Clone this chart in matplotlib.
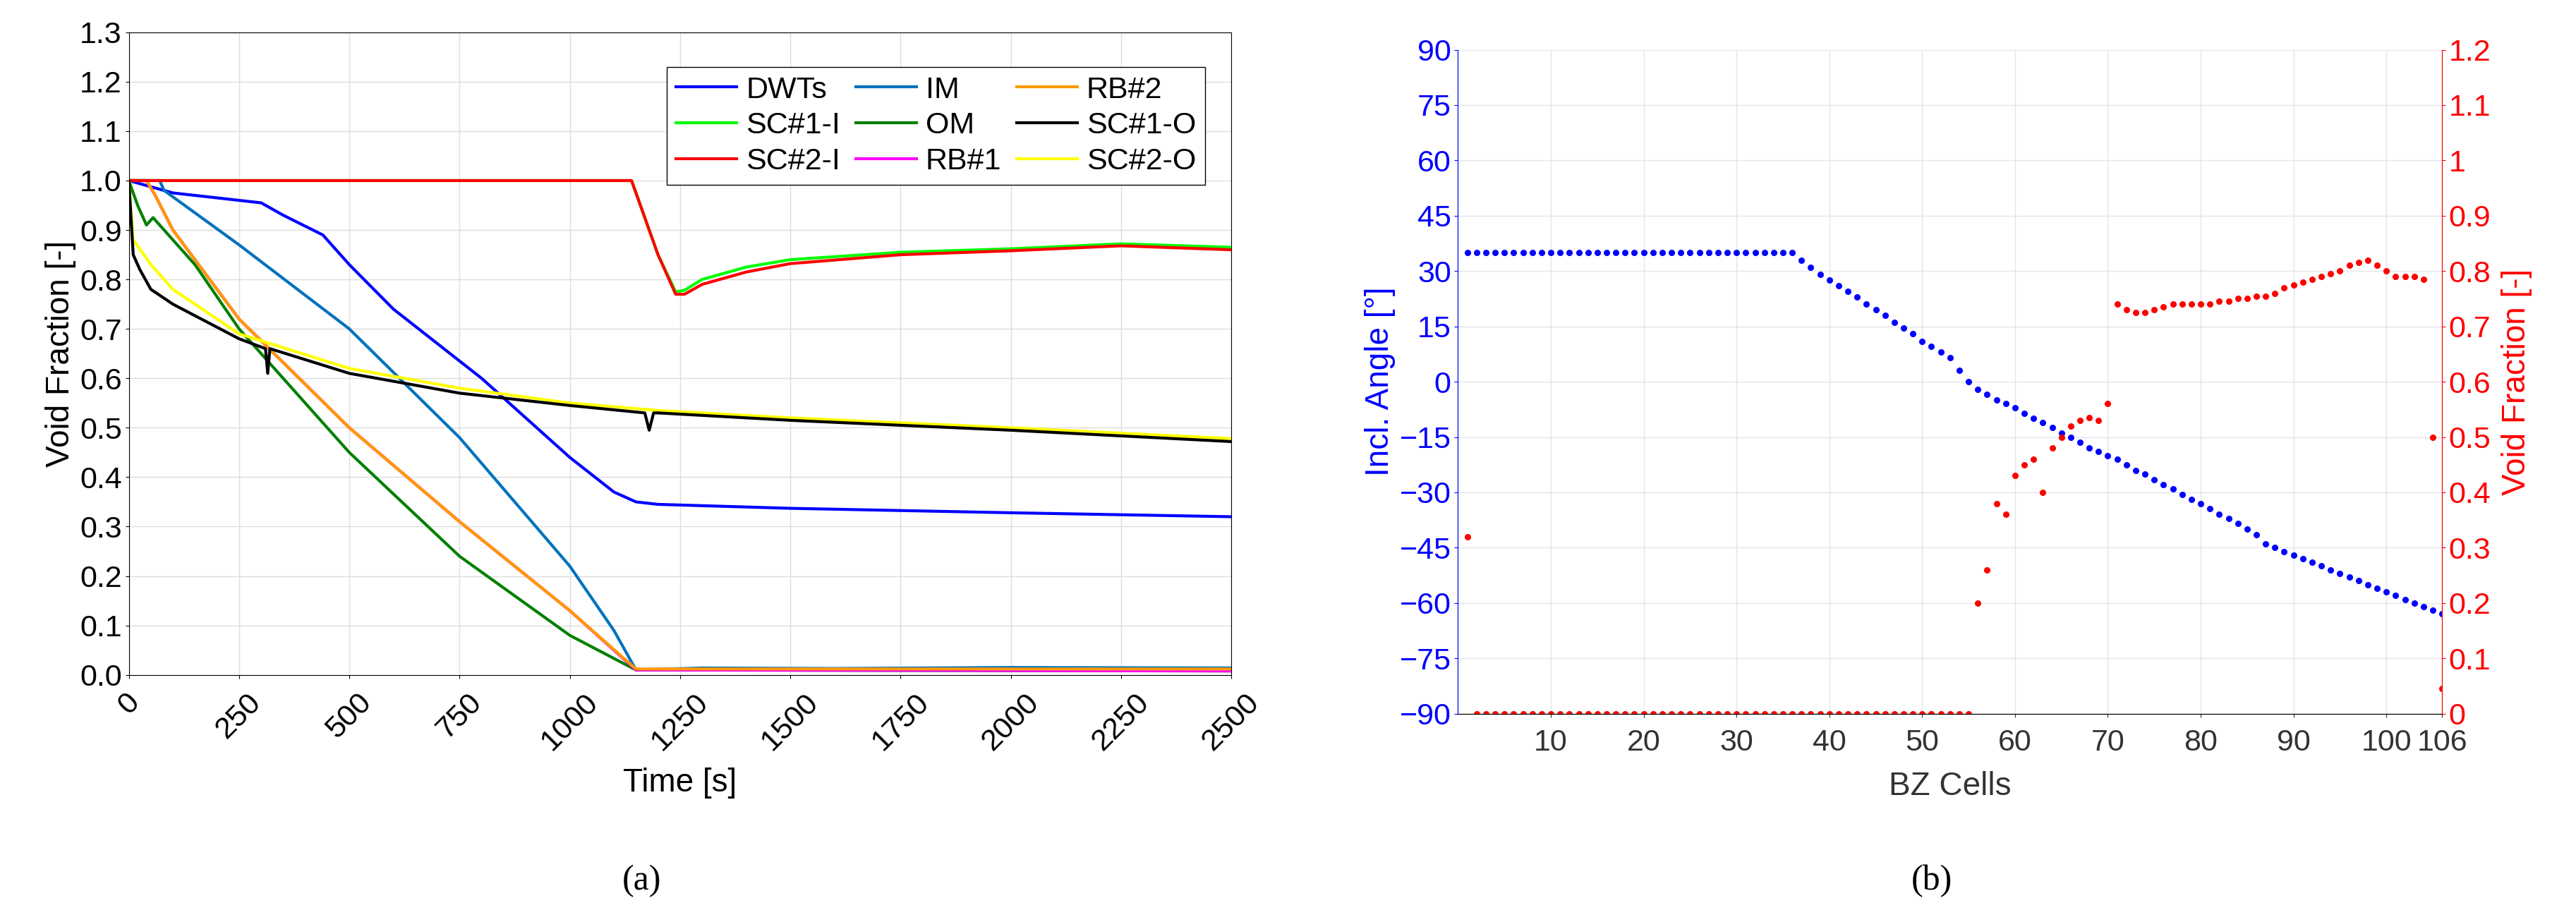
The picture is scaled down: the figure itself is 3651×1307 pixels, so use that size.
import matplotlib
matplotlib.use("Agg")
import matplotlib.pyplot as plt

plt.rcParams["font.family"] = ["Liberation Sans Narrow", "Liberation Sans", "DejaVu Sans"]

# ---- (a) void fraction vs time: series as (time, value) read-off points
DWT_T = [0, 100, 300, 350, 440, 500, 600, 800, 900, 1000, 1100, 1150, 1200, 1500, 2000, 2500]
DWT_V = [1.0, 0.975, 0.955, 0.93, 0.89, 0.83, 0.74, 0.60, 0.52, 0.44, 0.37, 0.35, 0.345, 0.337, 0.328, 0.32]
IM_T = [0, 70, 80, 250, 500, 750, 1000, 1100, 1150, 1300, 1600, 2000, 2500]
IM_V = [1.0, 1.0, 0.98, 0.87, 0.70, 0.48, 0.22, 0.09, 0.01, 0.014, 0.013, 0.015, 0.014]
OM_T = [0, 20, 40, 55, 70, 150, 250, 500, 750, 1000, 1150, 2500]
OM_V = [1.0, 0.95, 0.91, 0.925, 0.91, 0.83, 0.70, 0.45, 0.24, 0.08, 0.01, 0.008]
RB2_T = [0, 40, 60, 100, 250, 500, 750, 1000, 1150, 2500]
RB2_V = [1.0, 1.0, 0.97, 0.90, 0.72, 0.50, 0.31, 0.13, 0.012, 0.012]
RB1_T = [0, 40, 60, 100, 250, 500, 750, 1000, 1150, 2500]
RB1_V = [1.0, 1.0, 0.97, 0.90, 0.72, 0.50, 0.31, 0.13, 0.01, 0.008]
SC1O_T = [0, 10, 25, 50, 100, 250, 310, 315, 320, 500, 750, 1000, 1170, 1180, 1190, 1200, 1500, 2000, 2500]
SC1O_V = [1.0, 0.85, 0.82, 0.78, 0.75, 0.68, 0.66, 0.61, 0.66, 0.61, 0.57, 0.545, 0.53, 0.495, 0.53, 0.53, 0.515, 0.495, 0.472]
SC2O_T = [0, 10, 50, 100, 250, 500, 750, 1000, 1200, 1500, 2000, 2500]
SC2O_V = [1.0, 0.88, 0.83, 0.78, 0.69, 0.62, 0.58, 0.55, 0.535, 0.52, 0.50, 0.478]
SC1I_T = [0, 1140, 1160, 1200, 1240, 1260, 1300, 1400, 1500, 1750, 2000, 2250, 2500]
SC1I_V = [1.0, 1.0, 0.95, 0.85, 0.775, 0.778, 0.80, 0.825, 0.84, 0.855, 0.862, 0.872, 0.865]
SC2I_T = [0, 1140, 1160, 1200, 1240, 1260, 1300, 1400, 1500, 1750, 2000, 2250, 2500]
SC2I_V = [1.0, 1.0, 0.95, 0.85, 0.77, 0.77, 0.79, 0.815, 0.832, 0.85, 0.858, 0.868, 0.86]

# ---- (b) BZ cells: inclination angle and void fraction
CELLS = list(range(1, 107))
ANGLE = [35] * 36 + [
    33, 31, 29, 27.5, 26, 24.5, 23, 21, 19.5, 18, 16, 14.5, 13, 11, 9.5, 8, 6.5, 3,
    0, -2, -3.5, -5, -6, -7, -8.5, -10, -11, -12.5, -14, -15, -16.5, -18, -19, -20,
    -21, -22.5, -24, -25, -26.5, -28, -29, -30.5, -32, -33, -34.5, -36, -37, -38.5,
    -40, -41.5, -44, -45, -46, -47, -48, -49, -50, -51, -52, -53, -54, -55, -56,
    -57, -58, -59, -60, -61, -62, -63,
]
VOID = [0.32] + [0.0] * 54 + [
    0.2, 0.26, 0.38, 0.36, 0.43, 0.45, 0.46, 0.40, 0.48, 0.50, 0.52, 0.53, 0.535,
    0.53, 0.56, 0.74, 0.73, 0.725, 0.725, 0.73, 0.735, 0.74, 0.74, 0.74, 0.74, 0.74,
    0.745, 0.745, 0.75, 0.75, 0.755, 0.755, 0.76, 0.77, 0.775, 0.78, 0.785, 0.79,
    0.795, 0.80, 0.81, 0.815, 0.82, 0.81, 0.80, 0.79, 0.79, 0.79, 0.785, 0.5, 0.045,
]

FS = 31
LFS = 33
fig = plt.figure(figsize=(36.51, 13.07), dpi=100)

ax = fig.add_axes([0.050, 0.268, 0.428, 0.697])
series = [
    (DWT_T, DWT_V, "#0000ff", "DWTs"), (SC1I_T, SC1I_V, "#00ff00", "SC#1-I"),
    (SC2I_T, SC2I_V, "#ff0000", "SC#2-I"), (IM_T, IM_V, "#0072bd", "IM"),
    (OM_T, OM_V, "#008000", "OM"), (RB1_T, RB1_V, "#ff00ff", "RB#1"),
    (RB2_T, RB2_V, "#ff9900", "RB#2"), (SC1O_T, SC1O_V, "#000000", "SC#1-O"),
    (SC2O_T, SC2O_V, "#ffff00", "SC#2-O"),
]
zorder = {"RB#1": 2, "SC#2-O": 3, "SC#1-O": 4, "SC#1-I": 3, "SC#2-I": 4}
for t, v, c, lab in series:
    ax.plot(t, v, color=c, lw=3, label=lab, zorder=zorder.get(lab, 2))
ax.set_xlim(0, 2500); ax.set_ylim(0, 1.3)
ax.set_xticks(range(0, 2501, 250))
ax.set_yticks([i / 10 for i in range(14)])
ax.set_yticklabels([f"{i / 10:.1f}" for i in range(14)])
ax.tick_params(axis="x", rotation=45, labelsize=FS, pad=10)
ax.tick_params(axis="y", labelsize=FS)
ax.grid(color="#dddddd", lw=1)
ax.set_xlabel("Time [s]", fontsize=LFS, labelpad=12)
ax.set_ylabel("Void Fraction [-]", fontsize=LFS)
ax.legend(ncol=3, loc="upper right", bbox_to_anchor=(0.99, 0.97), fontsize=FS,
          fancybox=False, edgecolor="black", framealpha=1, handlelength=2,
          columnspacing=0.5, handletextpad=0.3, borderpad=0.3, labelspacing=0.25)

bx = fig.add_axes([0.566, 0.226, 0.382, 0.72])
bx.plot(CELLS, ANGLE, "o", color="#0000ff", ms=5.5)
bx.set_xlim(0, 106); bx.set_ylim(-90, 90)
bx.set_yticks(range(-90, 91, 15))
bx.set_xticks(list(range(10, 101, 10)) + [106])
bx.tick_params(axis="y", colors="#0000ff", labelsize=FS)
bx.tick_params(axis="x", labelsize=FS, colors="#333333", pad=12)
bx.grid(color="#e4e4ee", lw=1)
bx.set_ylabel("Incl. Angle [°]", color="#0000ff", fontsize=LFS)
bx.set_xlabel("BZ Cells", fontsize=LFS, color="#333333", labelpad=14)
bx.spines["left"].set_color("#0000ff")
bx.spines["right"].set_color("#ff0000")
bx.spines["top"].set_visible(False)
rx = bx.twinx()
rx.plot(CELLS, VOID, "o", color="#ff0000", ms=5.5)
rx.set_ylim(0, 1.2)
rx.set_yticks([i / 10 for i in range(13)])
rx.set_yticklabels(["0"] + [f"{i / 10:g}" for i in range(1, 13)])
rx.tick_params(axis="y", colors="#ff0000", labelsize=FS)
rx.set_ylabel("Void Fraction [-]", color="#ff0000", fontsize=LFS, labelpad=10)
rx.spines["right"].set_color("#ff0000")
rx.spines["left"].set_color("#0000ff")
rx.spines["top"].set_visible(False)

fig.text(0.249, 0.035, "(a)", fontsize=36, family="Liberation Serif", ha="center")
fig.text(0.750, 0.035, "(b)", fontsize=36, family="Liberation Serif", ha="center")
fig.savefig("out.png", dpi=100)
